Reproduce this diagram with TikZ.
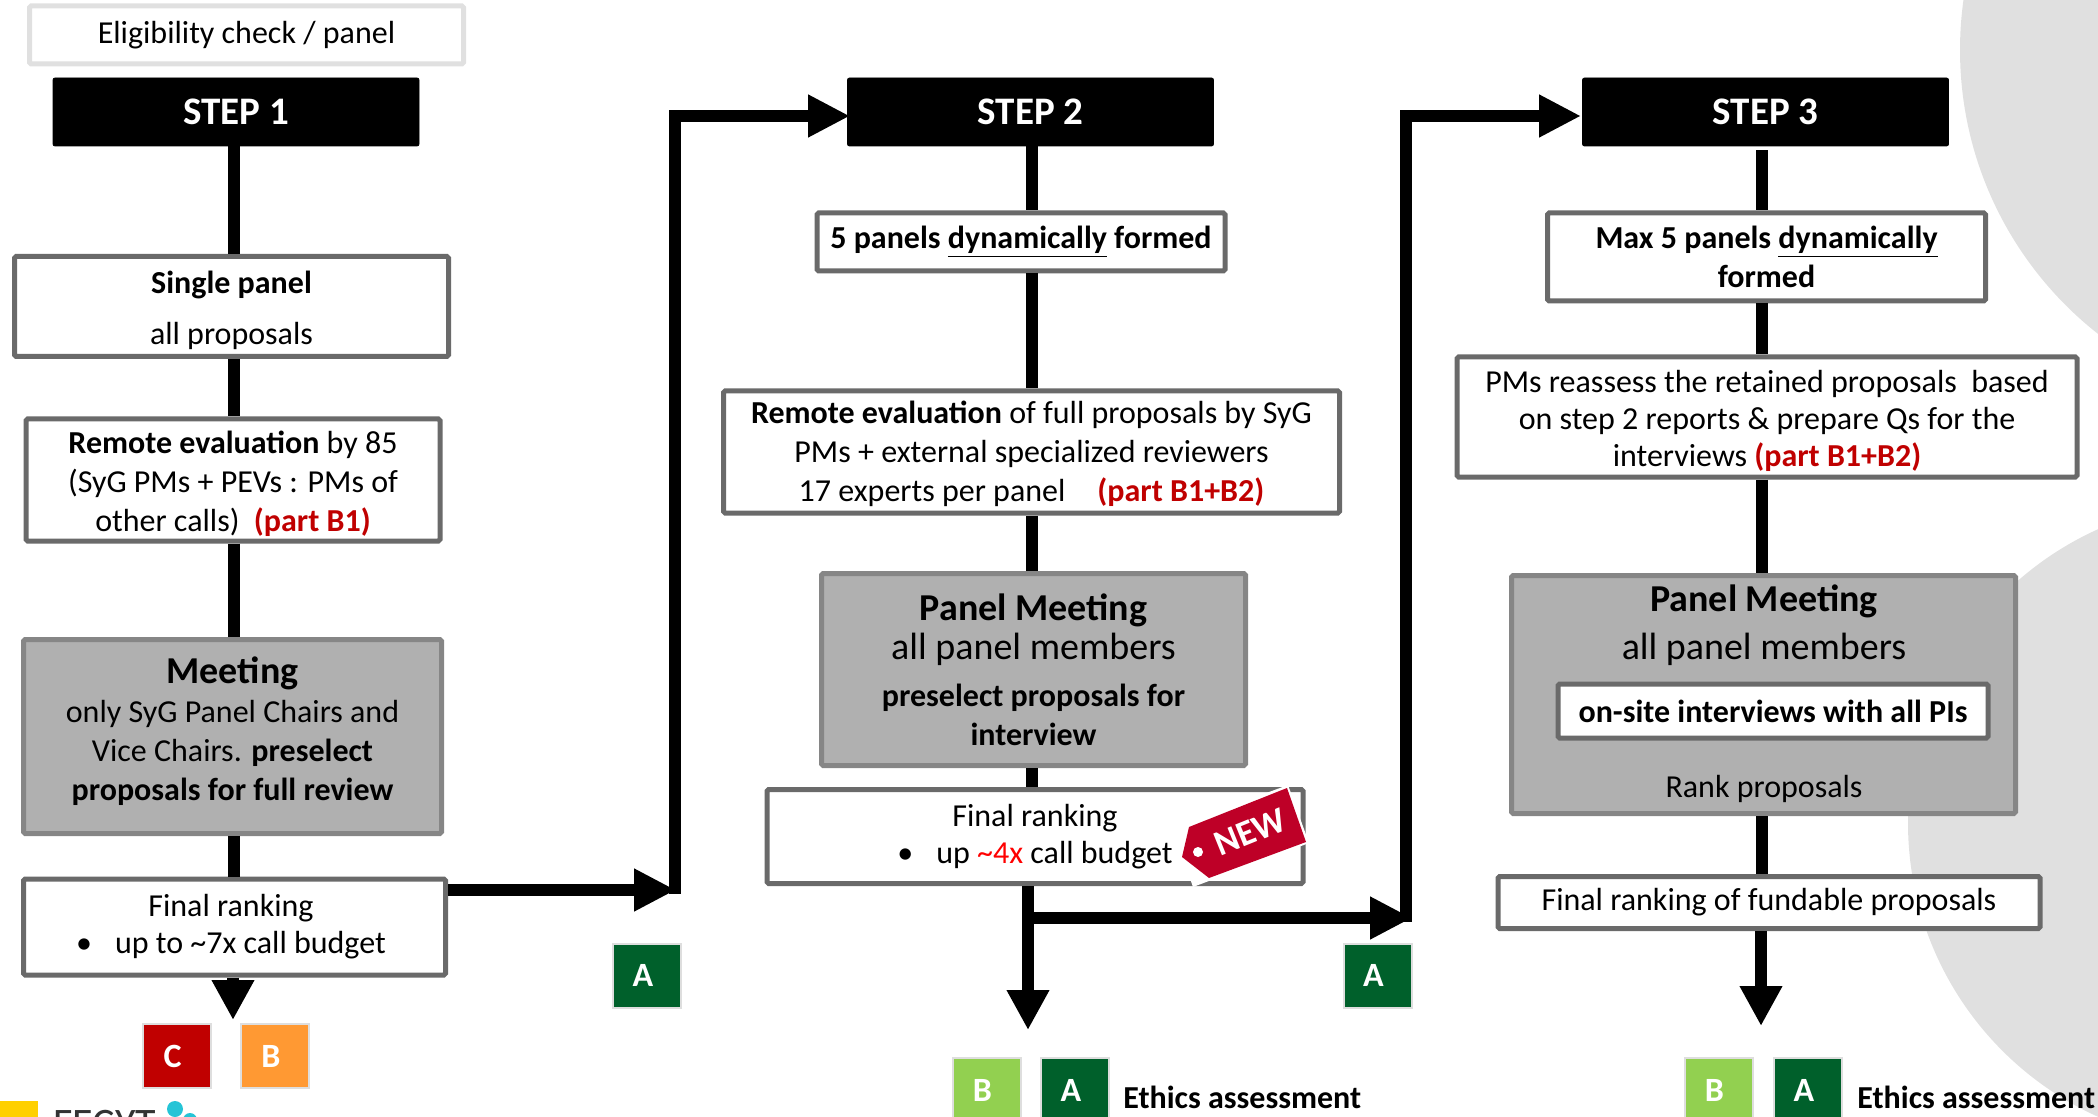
\documentclass[tikz,border=0pt]{standalone}
\usepackage{fontspec}
\setmainfont{Carlito}
\usetikzlibrary{arrows.meta}
\definecolor{boxline}{HTML}{6A6A6A}
\definecolor{meetfill}{HTML}{B0B0B0}
\definecolor{meetline}{HTML}{868686}
\definecolor{discgray}{HTML}{E0E0E0}
\definecolor{gradeC}{HTML}{C00000}
\definecolor{gradeO}{HTML}{FF9933}
\definecolor{gradeB}{HTML}{92D050}
\definecolor{gradeA}{HTML}{00602B}
\definecolor{tagred}{HTML}{BE0027}
\definecolor{logoyellow}{HTML}{FFD000}
\definecolor{logocyan}{HTML}{25C4D6}
\newcommand{\partref}[1]{\textcolor{gradeC}{\textbf{#1}}}
\newcommand{\bigline}{\fontsize{19}{23}\selectfont}
\newcommand{\bulletgap}{\textbullet\hspace{11.5pt}}
\tikzset{
    txt/.style = {font=\fontsize{16}{19.5}\selectfont, text=black, align=center, inner sep=0pt},
    bigtxt/.style = {font=\bigline, text=black, align=center, inner sep=0pt},
    whitebox/.style = {txt, draw=boxline, line width=2.5pt, fill=white, rounded corners=0.8pt},
    meetbox/.style = {txt, draw=meetline, line width=2.5pt, fill=meetfill, rounded corners=0.8pt},
    stepbox/.style = {draw=black, fill=black, text=white, rounded corners=1pt, minimum width=183pt, minimum height=34pt, font=\fontsize{19.5}{22}\selectfont\bfseries},
    gradebox/.style = {draw=black!13, line width=1pt, minimum width=34pt, minimum height=32pt, text=white, font=\fontsize{17}{20}\selectfont\bfseries, execute at end node=\hspace*{4pt}},
    flowline/.style = {line width=6pt, draw=black},
    flowarrow/.style = {flowline, -{Triangle[length=21pt,width=20pt]}},
    downarrow/.style = {flowline, -{Triangle[length=20pt,width=20pt]}}
}
\begin{document}
\begin{tikzpicture}[x=0.5pt,y=-0.5pt]
    \useasboundingbox (0,0) rectangle (2098,1117);
    % grey discs behind the third column
    \fill[discgray] (2321,50) circle[radius=361];
    \fill[discgray] (2230,823) circle[radius=322];
    % logo, cut by the page
    \begin{scope}
        \clip (0,0) rectangle (2098,1117);
        \fill[logoyellow] (0,1101) rectangle (38,1117);
        \fill[logocyan] (175,1109) circle[radius=8];
        \fill[logocyan] (190,1120) circle[radius=7];
        \node[anchor=base west, inner sep=0pt, font=\fontsize{21}{24}\selectfont, text=black!80] (logo) at (53,1137) {FECYT};
    \end{scope}
    % step 1
    \node[whitebox, draw=discgray, minimum width=217pt, minimum height=29pt] (check) at (246.5,35) {Eligibility check / panel};
    \node[stepbox] (step1) at (236,112) {STEP 1};
    \node[whitebox, minimum width=217pt, minimum height=50pt] (single) at (231.5,306.5) {\rule{0pt}{15pt}\textbf{Single panel}\\[6pt]all proposals};
    \node[whitebox, minimum width=207pt, minimum height=61pt] (remote1) at (233,480) {\rule{0pt}{15pt}\textbf{Remote evaluation} by 85\\(SyG PMs + PEVs : PMs of\\other calls)\ \ \partref{(part B1)}};
    \node[meetbox, minimum width=209pt, minimum height=97pt] (meet1) at (232.5,736.5) {{\bigline\textbf{Meeting}}\\only SyG Panel Chairs and\\Vice Chairs. \textbf{preselect}\\\textbf{proposals for full review}\rule[-8pt]{0pt}{0pt}};
    \node[whitebox, minimum width=211pt, minimum height=48pt] (final1) at (234.5,927) {Final ranking\hspace*{3.5pt}\\[-1pt]\bulletgap up to \textasciitilde7x call budget\hspace*{3.5pt}};
    \node[gradebox, fill=gradeC] (c1) at (176.5,1056) {C};
    \node[gradebox, fill=gradeO] (b1) at (275,1056) {B};
    \node[gradebox, fill=gradeA] (a1) at (647,975.5) {A};
    % step 2
    \node[stepbox] (step2) at (1030.5,112) {STEP 2};
    \node[whitebox, minimum width=204pt, minimum height=29pt] (panels2) at (1021,242) {\textbf{5 panels \underline{dynamically} formed}};
    \node[whitebox, minimum width=308pt, minimum height=61pt] (remote2) at (1031.5,452) {\rule{0pt}{13pt}\textbf{Remote evaluation} of full proposals by SyG\\PMs + external specialized reviewers\\17 experts per panel\quad\partref{(part B1+B2)}};
    \node[meetbox, minimum width=212pt, minimum height=96pt] (meet2) at (1033.5,669.5) {{\bigline\textbf{Panel Meeting}}\\{\bigline all panel members}\\[4pt]\textbf{preselect proposals for}\\\textbf{interview}};
    \node[whitebox, minimum width=268pt, minimum height=47pt] (final2) at (1035,836.5) {Final ranking\\[-1pt]\bulletgap up \textcolor{red}{\textasciitilde4x} call budget};
    \node[gradebox, fill=gradeA] (a2) at (1377.5,975.5) {A};
    \node[gradebox, fill=gradeB, anchor=north] (b2) at (986.5,1057) {B};
    \node[gradebox, fill=gradeA, anchor=north] (a3) at (1075,1057) {A};
    \node[anchor=base west, inner sep=0pt, font=\fontsize{16}{19}\selectfont\bfseries] (ethics2) at (1123,1108) {Ethics assessment};
    % step 3
    \node[stepbox] (step3) at (1765.5,112) {STEP 3};
    \node[whitebox, minimum width=219pt, minimum height=44pt] (panels3) at (1766.5,257) {\textbf{Max 5 panels \underline{dynamically}}\\\textbf{formed}};
    \node[whitebox, minimum width=310pt, minimum height=60pt] (pms) at (1767,417) {\rule{0pt}{15pt}PMs reassess the retained proposals\ \ based\\[-1pt]on step 2 reports \& prepare Qs for the\\[-1pt]interviews \partref{(part B1+B2)}};
    \node[meetbox, minimum width=252pt, minimum height=119pt] (meet3) at (1763.5,694.5) {};
    \node[bigtxt] (meet3title) at (1764,601) {\textbf{Panel Meeting}};
    \node[bigtxt] (meet3sub) at (1764,649) {all panel members};
    \node[whitebox, minimum width=215pt, minimum height=27pt] (interview) at (1773,711) {\textbf{on-site interviews with all PIs}};
    \node[txt] (rank3) at (1764,789) {Rank proposals};
    \node[whitebox, minimum width=271pt, minimum height=26pt] (final3) at (1769,902.5) {Final ranking of fundable proposals};
    \node[gradebox, fill=gradeB, anchor=north] (b3) at (1718.5,1057) {B};
    \node[gradebox, fill=gradeA, anchor=north] (a4) at (1808,1057) {A};
    \node[anchor=base west, inner sep=0pt, font=\fontsize{16}{19}\selectfont\bfseries] (ethics3) at (1857,1108) {Ethics assessment};
    % connectors
    \coordinate (col1) at (234,0);
    \coordinate (col2) at (1032,0);
    \coordinate (col3) at (1762,0);
    \coordinate (up1) at (676,890);
    \coordinate (in2) at (850,116);
    \coordinate (up2) at (1412,918);
    \coordinate (in3) at (1581,116);
    \coordinate (tip1) at (233,1020);
    \coordinate (tip2) at (1028,1030);
    \coordinate (tip3) at (1761,1026);
    \draw[flowline] (col1 |- step1.south) -- (col1 |- single.north);
    \draw[flowline] (col1 |- single.south) -- (col1 |- remote1.north);
    \draw[flowline] (col1 |- remote1.south) -- (col1 |- meet1.north);
    \draw[flowline] (col1 |- meet1.south) -- (col1 |- final1.north);
    \draw[downarrow] (tip1 |- final1.south) -- (tip1);
    \draw[flowarrow] (final1.east |- up1) -- (up1);
    \draw[flowarrow] (675,894) |- (in2);
    \draw[flowline] (col2 |- step2.south) -- (col2 |- panels2.north);
    \draw[flowline] (col2 |- panels2.south) -- (col2 |- remote2.north);
    \draw[flowline] (col2 |- remote2.south) -- (col2 |- meet2.north);
    \draw[flowline] (col2 |- meet2.south) -- (col2 |- final2.north);
    \draw[downarrow] (tip2 |- final2.south) -- (tip2);
    \draw[flowarrow] (tip2 |- up2) -- (up2);
    \draw[flowarrow] (1406,922) |- (in3);
    \draw[flowline, shorten <=2pt] (col3 |- step3.south) -- (col3 |- panels3.north);
    \draw[flowline] (col3 |- panels3.south) -- (col3 |- pms.north);
    \draw[flowline] (col3 |- pms.south) -- (col3 |- meet3.north);
    \draw[flowline] (col3 |- meet3.south) -- (col3 |- final3.north);
    \draw[downarrow] (tip3 |- final3.south) -- (tip3);
    % sticker
    \fill[white] (1172,828) -- (1288,785) -- (1309,843) -- (1193,887) -- cycle;
    \fill[tagred] (1182,857) -- (1189,827) -- (1287,788) -- (1306,842) -- (1209,878) -- cycle;
    \fill[white] (1198,852) circle[radius=5];
    \node[rotate=22, inner sep=0pt, text=white, font=\fontsize{18}{20}\selectfont\bfseries] (newtag) at (1250,832) {NEW};
\end{tikzpicture}
\end{document}
